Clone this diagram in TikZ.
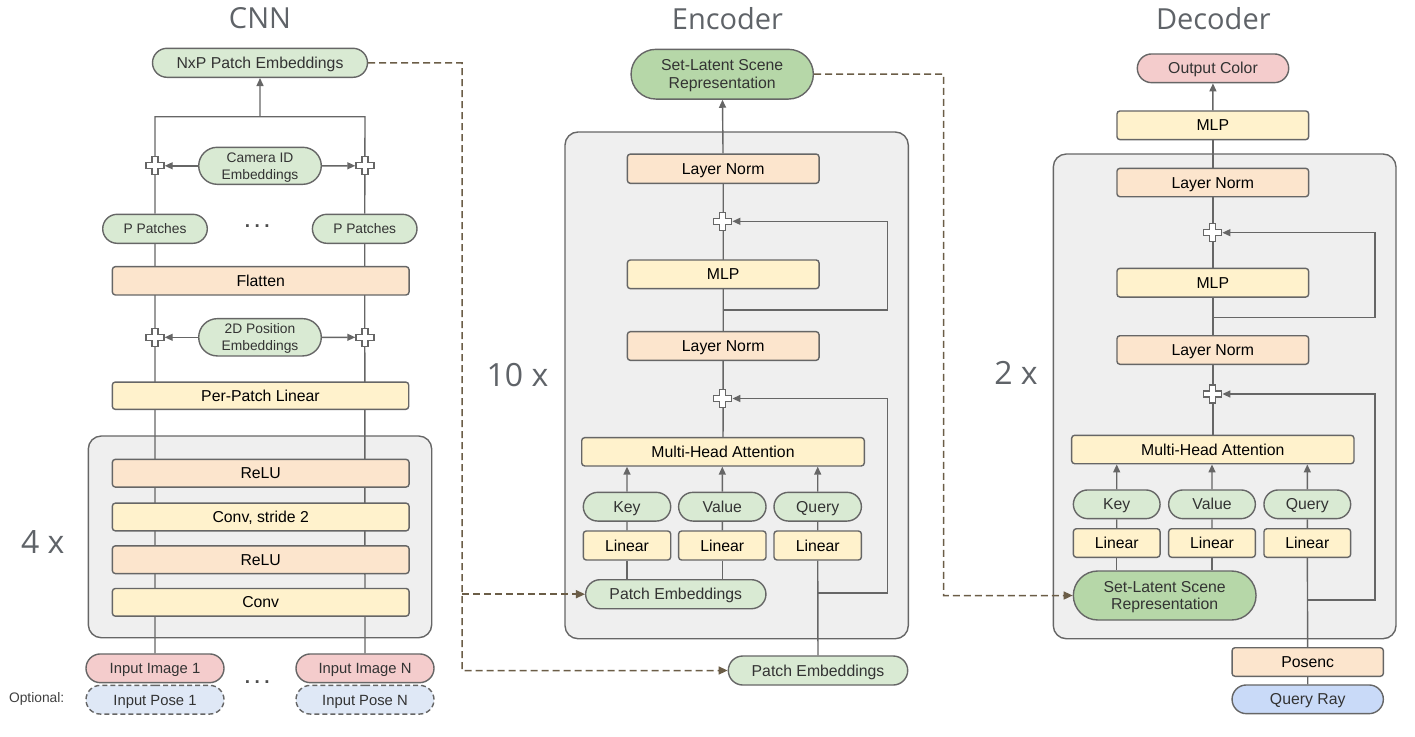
\documentclass[tikz,border=0pt]{standalone}
\usepackage{fontspec}
\setmainfont{Liberation Sans}
\newfontfamily\headfont{Open Sans}
\usetikzlibrary{arrows.meta,shapes.misc}

\definecolor{linegray}{HTML}{666666}
\definecolor{panelgray}{HTML}{EFEFEF}
\definecolor{greenlt}{HTML}{D9EAD3}
\definecolor{greendk}{HTML}{B6D7A8}
\definecolor{orangelt}{HTML}{FCE5CD}
\definecolor{yellowlt}{HTML}{FFF2CC}
\definecolor{pinklt}{HTML}{F4CCCC}
\definecolor{bluelt}{HTML}{C9DAF8}
\definecolor{bluepale}{HTML}{DFE8F6}
\definecolor{dashbrown}{HTML}{6B5D47}
\definecolor{headgray}{HTML}{5F6368}

\pgfdeclarelayer{back}
\pgfdeclarelayer{wires}
\pgfsetlayers{back,wires,main}

\tikzset{
	wire/.style={draw=linegray, line width=1.4pt},
	arr/.style={wire, -{Triangle[length=8pt,width=7pt]}},
	dasharr/.style={draw=dashbrown, line width=1.5pt, dash pattern=on 7pt off 4pt, -{Triangle[length=9pt,width=8pt]}},
	panel/.style={draw=linegray, line width=1.4pt, fill=panelgray, rounded corners=13pt},
	box/.style={rectangle, rounded corners=3pt, draw=linegray, line width=1.4pt, inner sep=0pt, text=black,
		font=\fontsize{15.8}{17}\selectfont, text height=11.3pt, text depth=0pt},
	ybox/.style={box, fill=yellowlt},
	obox/.style={box, fill=orangelt},
	pill/.style={rounded rectangle, draw=linegray, line width=1.4pt, inner sep=0pt, fill=greenlt, text=black!80,
		font=\fontsize{15.8}{17.7}\selectfont, text height=11.3pt, text depth=0pt},
	pilltwo/.style={rounded rectangle, draw=linegray, line width=1.4pt, inner sep=0pt, fill=greenlt, text=black!80,
		align=center, font=\fontsize{15.8}{17.7}\selectfont, text depth=0pt},
	small/.style={font=\fontsize{13.8}{17}\selectfont, text height=9.9pt},
	smalltwo/.style={font=\fontsize{13.8}{17}\selectfont},
	inpill/.style={pill, minimum width=138pt, minimum height=28.7pt, font=\fontsize{14.8}{17}\selectfont, text height=10.6pt},
	dots/.style={font=\bfseries\fontsize{19}{20}\selectfont, text=black!70},
	head/.style={anchor=base, inner sep=0pt, text=headgray, font=\headfont\fontsize{29}{34}\selectfont},
	rep/.style={head, font=\headfont\fontsize{32}{36}\selectfont},
	jn/.style={rectangle, minimum size=19pt, inner sep=0pt},
	crossmark/.pic={\draw[linegray, line width=1.2pt, fill=white] (-3,-9) -- (3,-9) -- (3,-3) -- (9,-3) -- (9,3) -- (3,3) -- (3,9) -- (-3,9) -- (-3,3) -- (-9,3) -- (-9,-3) -- (-3,-3) -- cycle;}
}

\begin{document}
\begin{tikzpicture}[x=1pt,y=-1pt]
	\useasboundingbox (0,0) rectangle (1415,736);

	% CNN
	\node[head] (cnnt) at (260,28.3) {CNN};
	\node[pill, minimum width=215pt, minimum height=29pt] (nxp) at (260,62.8) {NxP Patch Embeddings};
	\node[pilltwo, smalltwo, minimum width=122.6pt, minimum height=37pt] (cam) at (260,165.8) {Camera ID\\Embeddings};
	\node[pill, small, minimum width=104.6pt, minimum height=29pt] (pp1) at (155,228.8) {P Patches};
	\node[pill, small, minimum width=104.6pt, minimum height=29pt] (ppN) at (364.7,228.8) {P Patches};
	\node[dots] (dots1) at (257.3,226.3) {.\hspace{4.5pt}.\hspace{4.5pt}.};
	\node[obox, minimum width=296.7pt, minimum height=28.3pt] (flat) at (260.7,280.8) {Flatten};
	\node[pilltwo, smalltwo, minimum width=122.6pt, minimum height=37.3pt] (pos) at (260,337.3) {2D Position\\Embeddings};
	\node[ybox, minimum width=296.4pt, minimum height=27.3pt] (ppl) at (260.5,395.7) {Per-Patch Linear};
	\node[obox, minimum width=296.7pt, minimum height=27.7pt] (relu1) at (260.7,473.2) {ReLU};
	\node[ybox, minimum width=296.7pt, minimum height=27.7pt] (conv2) at (260.7,517) {Conv, stride 2};
	\node[obox, minimum width=296.7pt, minimum height=27.7pt] (relu2) at (260.7,559.7) {ReLU};
	\node[ybox, minimum width=296.7pt, minimum height=27.7pt] (conv1) at (260.7,602.3) {Conv};
	\node[rep] (four) at (42.8,553.3) {4 x};
	\node[inpill, fill=pinklt] (img1) at (155,668.3) {Input Image 1};
	\node[inpill, fill=pinklt] (imgN) at (365,668.3) {Input Image N};
	\node[inpill, fill=bluepale, dash pattern=on 5pt off 3pt] (pose1) at (155,699.7) {Input Pose 1};
	\node[inpill, fill=bluepale, dash pattern=on 5pt off 3pt] (poseN) at (365,699.7) {Input Pose N};
	\node[dots] (dots2) at (257.3,682.3) {.\hspace{4.5pt}.\hspace{4.5pt}.};
	\node[font=\fontsize{13.8}{16}\selectfont, text=black!75] (opt) at (36.7,699.3) {Optional:};
	\node[jn] (cam1) at (155,165.8) {};
	\node[jn] (camN) at (365,165.8) {};
	\node[jn] (pos1) at (155,337.3) {};
	\node[jn] (posN) at (365,337.3) {};
	\coordinate (tl) at (155,116.7);
	\coordinate (tm) at (260,116.7);
	\coordinate (tr) at (365,116.7);

	% Encoder
	\node[head] (enct) at (727.5,29) {Encoder};
	\node[pilltwo, fill=greendk, minimum width=182.3pt, minimum height=49.7pt] (eslsr) at (722.2,74.2) {Set-Latent Scene\\Representation};
	\node[obox, minimum width=191.7pt, minimum height=29.3pt] (elnB) at (723.2,168.7) {Layer Norm};
	\node[jn] (eplusB) at (722.7,221.3) {};
	\node[ybox, minimum width=191.7pt, minimum height=28.7pt] (emlp) at (723.2,274.3) {MLP};
	\node[obox, minimum width=191.7pt, minimum height=28.7pt] (elnA) at (723.2,346) {Layer Norm};
	\node[jn] (eplusA) at (722.7,398.5) {};
	\node[ybox, minimum width=282.6pt, minimum height=28.3pt] (emha) at (723,451.8) {Multi-Head Attention};
	\node[pill, minimum width=87.4pt, minimum height=28.7pt] (ekey) at (627,506.7) {Key};
	\node[pill, minimum width=87.4pt, minimum height=28.7pt] (evalue) at (722.3,506.7) {Value};
	\node[pill, minimum width=87.4pt, minimum height=28.7pt] (equery) at (817.7,506.7) {Query};
	\node[ybox, minimum width=87.4pt, minimum height=29pt] (elinK) at (627,545.5) {Linear};
	\node[ybox, minimum width=87.4pt, minimum height=29pt] (elinV) at (722.3,545.5) {Linear};
	\node[ybox, minimum width=87.4pt, minimum height=29pt] (elinQ) at (817.7,545.5) {Linear};
	\node[pill, minimum width=180.3pt, minimum height=29pt] (epe) at (675.8,594.2) {Patch Embeddings};
	\node[pill, minimum width=179.4pt, minimum height=29pt] (epeout) at (818,670.5) {Patch Embeddings};
	\node[rep] (ten) at (517.5,386) {10 x};
	\coordinate (efbB) at (722.7,310);
	\coordinate (efbA) at (818,593);
	\coordinate (dtop) at (462,62.8);
	\coordinate (dmid) at (462,594.2);

	% Decoder
	\node[head] (dect) at (1213.3,29) {Decoder};
	\node[pill, fill=pinklt, minimum width=151.4pt, minimum height=28.7pt] (dout) at (1213,68.3) {Output Color};
	\node[ybox, minimum width=191.7pt, minimum height=28.7pt] (dmlpout) at (1212.8,125.3) {MLP};
	\node[obox, minimum width=191.7pt, minimum height=28.4pt] (dlnB) at (1212.8,182.5) {Layer Norm};
	\node[jn] (dplusB) at (1212.7,232.7) {};
	\node[ybox, minimum width=191.7pt, minimum height=28.7pt] (dmlp) at (1212.8,282.7) {MLP};
	\node[obox, minimum width=191.7pt, minimum height=28.6pt] (dlnA) at (1212.8,350) {Layer Norm};
	\node[jn] (dplusA) at (1212.7,394) {};
	\node[ybox, minimum width=282.3pt, minimum height=28.4pt] (dmha) at (1212.8,449.5) {Multi-Head Attention};
	\node[pill, minimum width=86.7pt, minimum height=28.7pt] (dkey) at (1116.7,504.3) {Key};
	\node[pill, minimum width=86.7pt, minimum height=28.7pt] (dvalue) at (1212,504.3) {Value};
	\node[pill, minimum width=86.7pt, minimum height=28.7pt] (dquery) at (1307.3,504.3) {Query};
	\node[ybox, minimum width=86.7pt, minimum height=28.6pt] (dlinK) at (1116.7,543) {Linear};
	\node[ybox, minimum width=86.7pt, minimum height=28.6pt] (dlinV) at (1212,543) {Linear};
	\node[ybox, minimum width=86.7pt, minimum height=28.6pt] (dlinQ) at (1307.3,543) {Linear};
	\node[pilltwo, fill=greendk, minimum width=182.7pt, minimum height=49pt] (dslsr) at (1164.7,595.5) {Set-Latent Scene\\Representation};
	\node[obox, minimum width=151.3pt, minimum height=28.6pt] (dpos) at (1307.7,662) {Posenc};
	\node[pill, fill=bluelt, minimum width=151.3pt, minimum height=28.7pt] (dray) at (1307.7,699.3) {Query Ray};
	\node[rep] (two) at (1016,384.3) {2 x};
	\coordinate (dfbB) at (1212.7,317.3);
	\coordinate (dfbA) at (1307.7,600);
	\coordinate (etop) at (943.5,74.2);

	\foreach \j in {cam1,camN,pos1,posN,eplusA,eplusB,dplusA,dplusB}
		\pic at (\j) {crossmark};

	\begin{pgfonlayer}{back}
		\draw[panel] (88.3,436) rectangle (431.7,637.7);
		\draw[panel] (565,132) rectangle (908.3,638.7);
		\draw[panel] (1053.3,154) rectangle (1396,638.7);
	\end{pgfonlayer}

	\begin{pgfonlayer}{wires}
		% CNN
		\draw[wire] (img1) -- (pp1);
		\draw[wire] (imgN) -- (ppN);
		\draw[wire] (pp1) -- (tl) -- (tr) -- (ppN);
		\draw[arr] (tm) -- (nxp);
		\draw[arr] (cam) -- (cam1);
		\draw[arr] (cam) -- (camN);
		\draw[arr] (pos) -- (pos1);
		\draw[arr] (pos) -- (posN);
		% Encoder
		\draw[wire] (emha) -- (elnA) -- (elnB);
		\draw[arr] (elnB) -- (eslsr);
		\draw[arr] (efbB) -- (887.7,310) |- (eplusB);
		\draw[arr] (efbA) -- (887.7,593) |- (eplusA);
		\foreach \k in {ekey,evalue,equery}
			\draw[arr] (\k) -- (\k |- emha.south);
		\draw[wire] (elinK) -- (ekey);
		\draw[wire] (elinV) -- (evalue);
		\draw[wire] (elinQ) -- (equery);
		\draw[wire] (elinK) -- (elinK |- epe.north);
		\draw[wire] (elinV) -- (elinV |- epe.north);
		\draw[wire] (epeout) -- (elinQ);
		\draw[dasharr] (nxp) -- (dtop) |- (epeout);
		\draw[dasharr] (dmid) -- (epe);
		\draw[dasharr] (eslsr) -- (etop) |- (dslsr);
		% Decoder
		\draw[arr] (dmlpout) -- (dout);
		\draw[wire] (dmha) -- (dlnA) -- (dlnB) -- (dmlpout);
		\draw[arr] (dfbB) -- (1375,317.3) |- (dplusB);
		\draw[arr] (dfbA) -- (1375,600) |- (dplusA);
		\foreach \k in {dkey,dvalue,dquery}
			\draw[arr] (\k) -- (\k |- dmha.south);
		\draw[wire] (dlinK) -- (dkey);
		\draw[wire] (dlinV) -- (dvalue);
		\draw[wire] (dlinQ) -- (dquery);
		\draw[wire] (dlinK) -- (dlinK |- dslsr.north);
		\draw[wire] (dlinV) -- (dlinV |- dslsr.north);
		\draw[wire] (dray) -- (dpos) -- (dlinQ);
	\end{pgfonlayer}
\end{tikzpicture}
\end{document}
